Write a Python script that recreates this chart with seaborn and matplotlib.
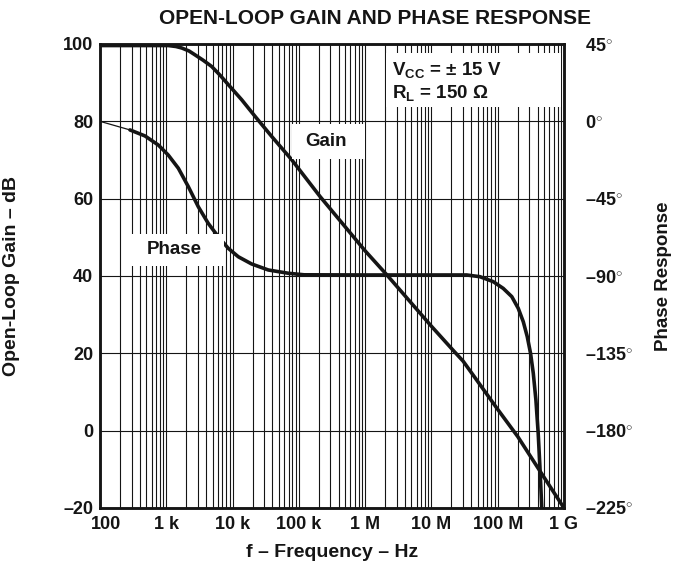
import matplotlib
matplotlib.use("Agg")
import matplotlib.pyplot as plt
import matplotlib.ticker as mticker
import matplotlib.transforms as mtransforms
import seaborn as sns
import pandas as pd

# ---- data ----
gain_freq = [100, 500, 1.07e3, 1.4e3, 1.71e3, 2.2e3, 2.71e3, 3.6e3, 4.83e3, 6.5e3,
             8.61e3, 1.37e4, 2.18e4, 3.89e4, 7.77e4, 2.1e5, 1e6, 2.2e6, 1e7,
             2.2e7, 3e7, 4.5e7, 1e8, 2e8, 4.36e8, 1e9]
gain_db = [99.6, 99.6, 99.6, 99.35, 98.97, 98.2, 97.2, 95.8, 94.2, 91.9,
           89.5, 85.6, 81.3, 76.1, 70.1, 60.5, 46.5, 40, 27,
           20.5, 18, 13.8, 5.5, -1.5, -10.5, -20]

phase_freq = [100, 283, 477, 759, 1.07e3, 1.52e3, 2.15e3, 3.04e3, 4.3e3, 6.08e3,
              8.61e3, 1.22e4, 1.94e4, 3.46e4, 6.92e4, 1.2e5, 1e6, 1e7, 3.4e7,
              5.39e7, 8.56e7, 1.21e8, 1.63e8, 2.04e8, 2.43e8, 2.79e8, 3.13e8,
              3.44e8, 3.77e8, 4.08e8, 4.33e8, 4.62e8]
phase_deg = [0, -5.0, -8.5, -13.8, -19.6, -27.3, -38.0, -49.7, -59.4, -67.1,
             -73.9, -78.8, -83.0, -86.5, -88.4, -89.3, -89.4, -89.4, -89.4,
             -90.4, -93.3, -97.2, -102.0, -108.8, -116.6, -125.3, -135.0,
             -146.6, -162.2, -181.5, -200.9, -225]

x_ticks = [1e2, 1e3, 1e4, 1e5, 1e6, 1e7, 1e8, 1e9]
x_labels = ["100", "1 k", "10 k", "100 k", "1 M", "10 M", "100 M", "1 G"]
gain_ticks = [-20, 0, 20, 40, 60, 80, 100]
gain_labels = ["–20", "0", "20", "40", "60", "80", "100"]
phase_ticks = [-225, -180, -135, -90, -45, 0, 45]
phase_labels = [r"–225$^{\circ}$", r"–180$^{\circ}$", r"–135$^{\circ}$", r"–90$^{\circ}$",
                r"–45$^{\circ}$", r"0$^{\circ}$", r"45$^{\circ}$"]

sns.set_style("white")
plt.rcParams["font.family"] = ["Liberation Sans", "DejaVu Sans"]
plt.rcParams["font.weight"] = "bold"
plt.rcParams["mathtext.fontset"] = "custom"
plt.rcParams["mathtext.rm"] = "Liberation Sans:bold"
plt.rcParams["mathtext.bf"] = "Liberation Sans:bold"
plt.rcParams["mathtext.it"] = "Liberation Sans:bold"
plt.rcParams["mathtext.sf"] = "Liberation Sans"
plt.rcParams["mathtext.default"] = "bf"

INK = "#151515"
W, H = 673, 566
L, R, T, B = 100, 564, 44, 508

fig = plt.figure(figsize=(W/100, H/100), dpi=100)
ax = fig.add_axes([L/W, 1-B/H, (R-L)/W, (B-T)/H])
ax2 = ax.twinx()

def axfrac(px, py):
    return (px-L)/(R-L), (B-py)/(B-T)

gain_df = pd.DataFrame({"f": gain_freq, "g": gain_db})
sns.lineplot(data=gain_df, x="f", y="g", ax=ax, color=INK, lw=2.6,
             sort=False, zorder=5)

phase_df = pd.DataFrame({"f": phase_freq, "p": phase_deg})
sns.lineplot(data=phase_df.iloc[:2], x="f", y="p", ax=ax2, color=INK, lw=0.9,
             sort=False, zorder=5)
sns.lineplot(data=phase_df.iloc[1:], x="f", y="p", ax=ax2, color=INK, lw=2.6,
             sort=False, zorder=5)

ax.set_xscale("log")
ax.set_xlim(1e2, 1e9)
ax.set_ylim(-20, 100)
ax2.set_ylim(-225, 45)

ax.set_xticks(x_ticks)
ax.set_xticklabels(x_labels)
ax.xaxis.set_minor_locator(mticker.LogLocator(base=10, subs=range(2, 10), numticks=50))
ax.xaxis.set_minor_formatter(mticker.NullFormatter())
ax.set_yticks(gain_ticks)
ax.set_yticklabels(gain_labels)
ax2.set_yticks(phase_ticks)
ax2.set_yticklabels(phase_labels)

ax.grid(True, which="both", axis="x", color=INK, lw=0.8)
ax.grid(True, which="major", axis="y", color=INK, lw=0.8)
ax2.grid(False)

ax.tick_params(which="both", length=0, labelsize=13, pad=5, colors=INK)
ax.tick_params(axis="x", pad=6)
ax2.tick_params(which="both", length=0, labelsize=13, pad=15, colors=INK)
for a in (ax, ax2):
    for s in a.spines.values():
        s.set_color(INK)
        s.set_linewidth(1.8)
    for lab in a.get_xticklabels() + a.get_yticklabels():
        lab.set_fontweight("bold")

offset = mtransforms.ScaledTranslation(6/100, 0, fig.dpi_scale_trans)
first = ax.get_xticklabels()[0]
first.set_transform(first.get_transform() + offset)

ax.set_xlabel("f – Frequency – Hz", fontsize=14, fontweight="bold", labelpad=8, color=INK)
ax.set_ylabel("Open-Loop Gain – dB", fontsize=14, fontweight="bold", color=INK)
ax.yaxis.set_label_coords(*axfrac(20, 276))
ax2.set_ylabel("Phase Response", fontsize=13.5, fontweight="bold", color=INK)
ax2.yaxis.set_label_coords(*axfrac(655, 276))
ax2.set_xlabel("")

fig.text(375/W, 1-18/H, "OPEN-LOOP GAIN AND PHASE RESPONSE", ha="center", va="center",
         fontsize=15, fontweight="bold", color=INK)

def white_box(x0, y0, x1, y1):
    fx0, fy1 = axfrac(x0, y0)
    fx1, fy0 = axfrac(x1, y1)
    ax2.add_patch(plt.Rectangle((fx0, fy0), fx1-fx0, fy1-fy0, transform=ax2.transAxes,
                                facecolor="white", edgecolor="none", zorder=9))

white_box(292, 124, 365, 159)
ax2.text(*axfrac(326, 141), "Gain", transform=ax2.transAxes, ha="center", va="center",
         fontsize=13.5, fontweight="bold", zorder=10, color=INK)
white_box(126, 234, 224, 266)
ax2.text(*axfrac(174, 249), "Phase", transform=ax2.transAxes, ha="center", va="center",
         fontsize=13.5, fontweight="bold", zorder=10, color=INK)
white_box(386, 53, 561, 107)
ax2.text(*axfrac(392, 70), r"V$_{CC}$ = ± 15 V", transform=ax2.transAxes,
         ha="left", va="center", fontsize=13.5, fontweight="bold", zorder=10, color=INK)
ax2.text(*axfrac(392, 93), r"R$_{L}$ = 150 Ω", transform=ax2.transAxes,
         ha="left", va="center", fontsize=13.5, fontweight="bold", zorder=10, color=INK)

fig.savefig("out.png", dpi=100)
